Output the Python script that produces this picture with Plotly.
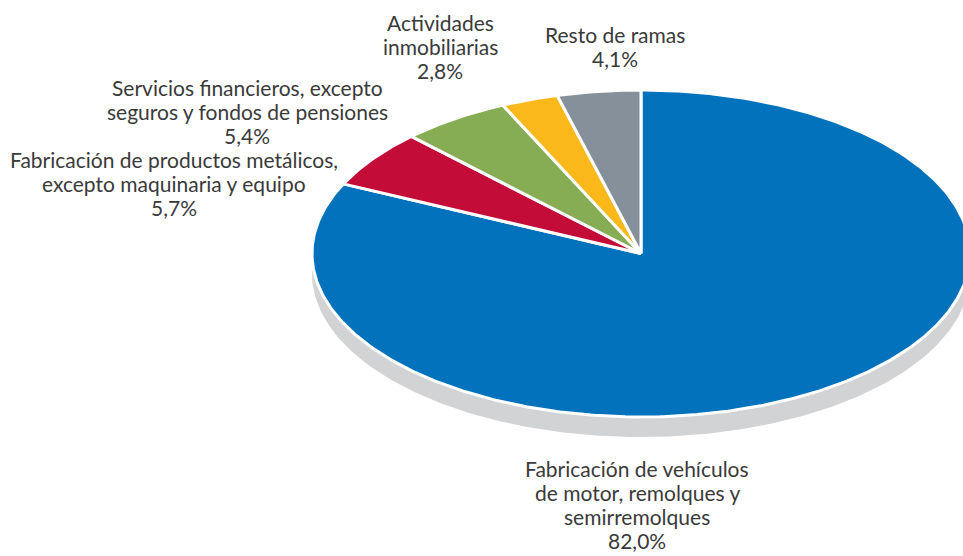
import numpy as np
import plotly.graph_objects as go

# Sector shares (%) in clockwise order starting at 12 o'clock
categories = [
    "Fabricación de vehículos<br>de motor, remolques y<br>semirremolques",
    "Fabricación de productos metálicos,<br>excepto maquinaria y equipo",
    "Servicios financieros, excepto<br>seguros y fondos de pensiones",
    "Actividades<br>inmobiliarias",
    "Resto de ramas",
]
values = [82.0, 5.7, 5.4, 2.8, 4.1]
value_labels = ["82,0%", "5,7%", "5,4%", "2,8%", "4,1%"]
colors = ["#0272bc", "#c30d38", "#86ad54", "#fbb81a", "#85909a"]

# Label block centres (pixel space of the canvas)
label_x = [637, 174, 247, 440, 615]
label_y = [504, 183, 111, 46, 46]

W, H = 963, 556
CX, CY = 641, 253.5     # pie centre
RX, RY = 329, 163.5     # ellipse radii (tilted pie)
SHADOW_DY = 20          # depth of the grey base
LINE_H = 24             # label line spacing

fig = go.Figure()


def ellipse_point(theta, dy=0.0):
    return CX + RX * np.sin(theta), CY - RY * np.cos(theta) + dy


# grey base under the pie
t = np.linspace(0, 2 * np.pi, 361)
sx, sy = ellipse_point(t, SHADOW_DY)
fig.add_trace(go.Scatter(
    x=sx, y=sy, mode="lines", fill="toself",
    fillcolor="#d2d3d5", line=dict(width=0), hoverinfo="skip",
    showlegend=False,
))

# slices
total = sum(values)
start = 0.0
for name, v, col in zip(categories, values, colors):
    a0 = start / total * 2 * np.pi
    a1 = (start + v) / total * 2 * np.pi
    n = max(int(v * 6), 12)
    th = np.linspace(a0, a1, n)
    px, py = ellipse_point(th)
    xs = np.concatenate([[CX], px, [CX]])
    ys = np.concatenate([[CY], py, [CY]])
    fig.add_trace(go.Scatter(
        x=xs, y=ys, mode="lines", fill="toself",
        fillcolor=col, line=dict(color="white", width=3),
        hoverinfo="skip", showlegend=False, name=name.replace("<br>", " "),
    ))
    start += v

# labels, one annotation per line for tight line spacing
for name, lab, lx, ly in zip(categories, value_labels, label_x, label_y):
    lines = name.split("<br>") + [lab]
    top = ly - LINE_H * (len(lines) - 1) / 2
    for i, line in enumerate(lines):
        fig.add_annotation(
            x=lx, y=top + i * LINE_H, xref="x", yref="y",
            text=line, showarrow=False, borderpad=0,
            xanchor="center", yanchor="middle", align="center",
            font=dict(family="Lato", size=21, color="#3a3a3a"),
        )

fig.update_layout(
    width=W, height=H,
    margin=dict(l=0, r=0, t=0, b=0),
    paper_bgcolor="white", plot_bgcolor="white",
    xaxis=dict(range=[0, W], visible=False, fixedrange=True),
    yaxis=dict(range=[H, 0], visible=False, fixedrange=True),
    showlegend=False,
)

fig.write_html("out.html")
